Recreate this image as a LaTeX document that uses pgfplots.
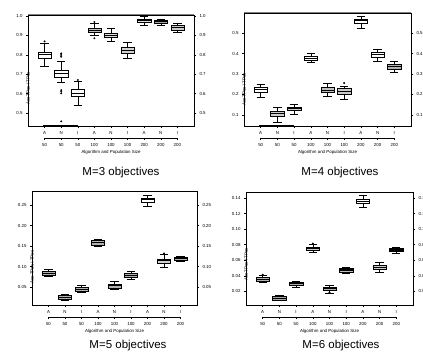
\documentclass[border=0pt]{standalone}
\usepackage{fontspec}
\setmainfont{Liberation Sans}
\usepackage{pgfplots}
\pgfplotsset{compat=1.18}
\newcommand{\tickfont}{\fontsize{4.4}{5}\selectfont}
\pgfplotsset{
  bp/.style={scale only axis, anchor=south west, xmin=-1, xmax=9,
    xtick={0,...,8}, xticklabels={A,N,I,A,N,I,A,N,I},
    tick align=outside, major tick length=2pt, xtick pos=bottom, ytick pos=left,
    tick label style={font=\tickfont},
    /pgf/number format/assume math mode=true,
    axis line style={line width=0.7pt}, clip=false,
    every tick/.style={black, line width=0.5pt},
    ylabel={Acc TPos / TPos},
    ylabel style={font=\tickfont, at={(axis description cs:0,0.5)}, anchor=center},
    xticklabel style={yshift=0.5pt}},
  rp/.style={scale only axis, anchor=south west, xmin=-1, xmax=9,
    hide x axis, axis y line*=right, tick align=outside, major tick length=2pt,
    tick label style={font=\tickfont},
    /pgf/number format/assume math mode=true,
    axis line style={line width=0.7pt},
    every tick/.style={black, line width=0.5pt}},
  tier/.style={scale only axis, anchor=south west, xmin=0, xmax=8, ymin=0, ymax=1,
    height=1pt, hide y axis, axis x line*=bottom, xtick={0,...,8},
    xticklabels={50,50,50,100,100,100,200,200,200},
    tick align=outside, major tick length=2pt,
    tick label style={font=\tickfont},
    axis line style={line width=0.6pt},
    every tick/.style={black, line width=0.5pt},
    xlabel={Algorithm and Population Size},
    xlabel style={font=\tickfont, at={(axis description cs:0.5,0)}, yshift=-14pt, anchor=center}},
}
% box: position, lower whisker, lower quartile, median, upper quartile, upper whisker, fill
\newcommand{\bx}[7]{%
  \pgfmathsetmacro{\xl}{#1-0.4}\pgfmathsetmacro{\xr}{#1+0.4}%
  \pgfmathsetmacro{\cl}{#1-0.25}\pgfmathsetmacro{\cr}{#1+0.25}%
  \addplot[black, line width=0.5pt] coordinates {(#1,#5) (#1,#6)};
  \addplot[black, line width=0.5pt] coordinates {(#1,#2) (#1,#3)};
  \addplot[black, line width=0.7pt] coordinates {(\cl,#6) (\cr,#6)};
  \addplot[black, line width=0.7pt] coordinates {(\cl,#2) (\cr,#2)};
  \addplot[black, line width=0.5pt, fill=#7] coordinates {(\xl,#3) (\xr,#3) (\xr,#5) (\xl,#5)} -- cycle;
  \addplot[black, line width=1.1pt] coordinates {(\xl,#4) (\xr,#4)};
}
\newcommand{\outl}[1]{\addplot[only marks, mark=*, mark size=0.75pt, black] coordinates {#1};}
\begin{document}
\begin{tikzpicture}
% ---------- Panel 1: M=3 ----------
\begin{axis}[bp, at={(28pt,228pt)}, width=166pt, height=111pt, ymin=0.433, ymax=1.005,
  ytick={0.5,0.6,0.7,0.8,0.9,1.0},
  yticklabel style={/pgf/number format/.cd, fixed, fixed zerofill, precision=1},
  ylabel style={xshift=-18pt}]
\bx{0}{0.741}{0.782}{0.802}{0.813}{0.859}{white}
\bx{1}{0.656}{0.684}{0.704}{0.722}{0.768}{white}
\bx{2}{0.540}{0.584}{0.601}{0.622}{0.665}{white}
\bx{3}{0.902}{0.914}{0.924}{0.938}{0.962}{gray!50}
\bx{4}{0.869}{0.888}{0.900}{0.912}{0.936}{gray!25}
\bx{5}{0.780}{0.808}{0.821}{0.837}{0.864}{gray!35}
\bx{6}{0.952}{0.966}{0.976}{0.983}{0.997}{gray!25}
\bx{7}{0.952}{0.962}{0.971}{0.978}{0.984}{gray!70}
\bx{8}{0.918}{0.928}{0.940}{0.952}{0.962}{gray!40}
\outl{(0,0.869) (1,0.807) (1,0.799) (1,0.790) (1,0.618) (1,0.610) (1,0.601) (1,0.457) (2,0.670) (3,0.969) (3,0.885)}
\draw[gray, line width=1pt] (rel axis cs:0,1) -- (rel axis cs:1,1);
\draw[black, line width=1.4pt] (rel axis cs:0.09,0) -- (rel axis cs:0.3,0);
\end{axis}
\begin{axis}[rp, at={(28pt,228pt)}, width=166pt, height=111pt, ymin=0.433, ymax=1.005,
  ytick={0.5,0.6,0.7,0.8,0.9,1.0},
  yticklabel style={/pgf/number format/.cd, fixed, fixed zerofill, precision=1}]
\end{axis}
\begin{axis}[tier, at={(44.6pt,216pt)}, width=132.8pt]
\end{axis}
% ---------- Panel 2: M=4 ----------
\begin{axis}[bp, at={(244pt,228pt)}, width=167pt, height=113pt, ymin=0.046, ymax=0.598,
  ytick={0.1,0.2,0.3,0.4,0.5},
  yticklabel style={/pgf/number format/.cd, fixed, fixed zerofill, precision=1},
  ylabel style={xshift=-20pt}]
\bx{0}{0.185}{0.213}{0.225}{0.234}{0.251}{white}
\bx{1}{0.064}{0.093}{0.107}{0.120}{0.136}{gray!40}
\bx{2}{0.103}{0.121}{0.130}{0.139}{0.152}{gray!40}
\bx{3}{0.356}{0.369}{0.375}{0.385}{0.402}{white}
\bx{4}{0.190}{0.210}{0.221}{0.234}{0.254}{gray!50}
\bx{5}{0.175}{0.202}{0.215}{0.228}{0.241}{gray!40}
\bx{6}{0.525}{0.549}{0.561}{0.569}{0.582}{white}
\bx{7}{0.364}{0.382}{0.397}{0.407}{0.420}{white}
\bx{8}{0.307}{0.325}{0.336}{0.346}{0.364}{gray!60}
\outl{(5,0.256)}
\draw[gray, line width=1pt] (rel axis cs:0,1) -- (rel axis cs:1,1);
\draw[black, line width=1.4pt] (rel axis cs:0.09,0) -- (rel axis cs:0.3,0);
\end{axis}
\begin{axis}[rp, at={(244pt,228pt)}, width=167pt, height=113pt, ymin=0.046, ymax=0.598,
  ytick={0.1,0.2,0.3,0.4,0.5},
  yticklabel style={/pgf/number format/.cd, fixed, fixed zerofill, precision=1}]
\end{axis}
\begin{axis}[tier, at={(260.7pt,216pt)}, width=133.6pt]
\end{axis}
% ---------- Panel 3: M=5 ----------
\begin{axis}[bp, at={(32pt,49pt)}, width=165pt, height=114pt, ymin=0.006, ymax=0.285,
  ytick={0.05,0.10,0.15,0.20,0.25},
  yticklabel style={/pgf/number format/.cd, fixed, fixed zerofill, precision=2},
  ylabel style={xshift=-19pt}]
\bx{0}{0.076}{0.079}{0.083}{0.088}{0.093}{gray!60}
\bx{1}{0.017}{0.021}{0.025}{0.029}{0.032}{gray!60}
\bx{2}{0.036}{0.039}{0.045}{0.050}{0.055}{gray!60}
\bx{3}{0.150}{0.153}{0.158}{0.164}{0.167}{gray!60}
\bx{4}{0.044}{0.048}{0.053}{0.058}{0.063}{gray!60}
\bx{5}{0.070}{0.074}{0.079}{0.083}{0.088}{gray!60}
\bx{6}{0.248}{0.258}{0.264}{0.268}{0.274}{white}
\bx{7}{0.097}{0.109}{0.114}{0.119}{0.130}{gray!35}
\bx{8}{0.114}{0.115}{0.119}{0.123}{0.125}{gray!60}
\outl{(7,0.132)}
\end{axis}
\begin{axis}[rp, at={(32pt,49pt)}, width=165pt, height=114pt, ymin=0.006, ymax=0.285,
  ytick={0.05,0.10,0.15,0.20,0.25},
  yticklabel style={/pgf/number format/.cd, fixed, fixed zerofill, precision=2}]
\end{axis}
\begin{axis}[tier, at={(48.5pt,37pt)}, width=132pt]
\end{axis}
% ---------- Panel 4: M=6 ----------
\begin{axis}[bp, at={(246pt,49pt)}, width=167pt, height=113pt, ymin=0.0024, ymax=0.1477,
  ytick={0.02,0.04,0.06,0.08,0.10,0.12,0.14},
  yticklabel style={/pgf/number format/.cd, fixed, fixed zerofill, precision=2},
  ylabel style={xshift=-16pt}]
\bx{0}{0.0316}{0.0328}{0.0354}{0.0376}{0.0405}{gray!60}
\bx{1}{0.0080}{0.0089}{0.0110}{0.0131}{0.0149}{gray!70}
\bx{2}{0.0251}{0.0280}{0.0300}{0.0320}{0.0328}{gray!60}
\bx{3}{0.0697}{0.0727}{0.0749}{0.0770}{0.0800}{gray!40}
\bx{4}{0.0170}{0.0213}{0.0234}{0.0256}{0.0277}{gray!60}
\bx{5}{0.0431}{0.0449}{0.0474}{0.0500}{0.0513}{gray!50}
\bx{6}{0.1276}{0.1336}{0.1360}{0.1387}{0.1434}{white}
\bx{7}{0.0444}{0.0478}{0.0508}{0.0534}{0.0573}{gray!40}
\bx{8}{0.0693}{0.0710}{0.0731}{0.0757}{0.0770}{gray!60}
\outl{(0,0.0415) (3,0.0815) (4,0.0185)}
\end{axis}
\begin{axis}[rp, at={(246pt,49pt)}, width=167pt, height=113pt, ymin=0.0024, ymax=0.1477,
  ytick={0.02,0.04,0.06,0.08,0.10,0.12,0.14},
  yticklabel style={/pgf/number format/.cd, fixed, fixed zerofill, precision=2}]
\end{axis}
\begin{axis}[tier, at={(262.7pt,37pt)}, width=133.6pt]
\end{axis}
% ---------- Titles ----------
\node[font=\fontsize{11.5}{13}\selectfont] at (121pt,181pt) {M=3 objectives};
\node[font=\fontsize{11.5}{13}\selectfont] at (340pt,181pt) {M=4 objectives};
\node[font=\fontsize{11.5}{13}\selectfont] at (128pt,8pt) {M=5 objectives};
\node[font=\fontsize{11.5}{13}\selectfont] at (341pt,8pt) {M=6 objectives};
\pgfresetboundingbox
\useasboundingbox (0,0) rectangle (423pt,354pt);
\end{tikzpicture}
\end{document}
